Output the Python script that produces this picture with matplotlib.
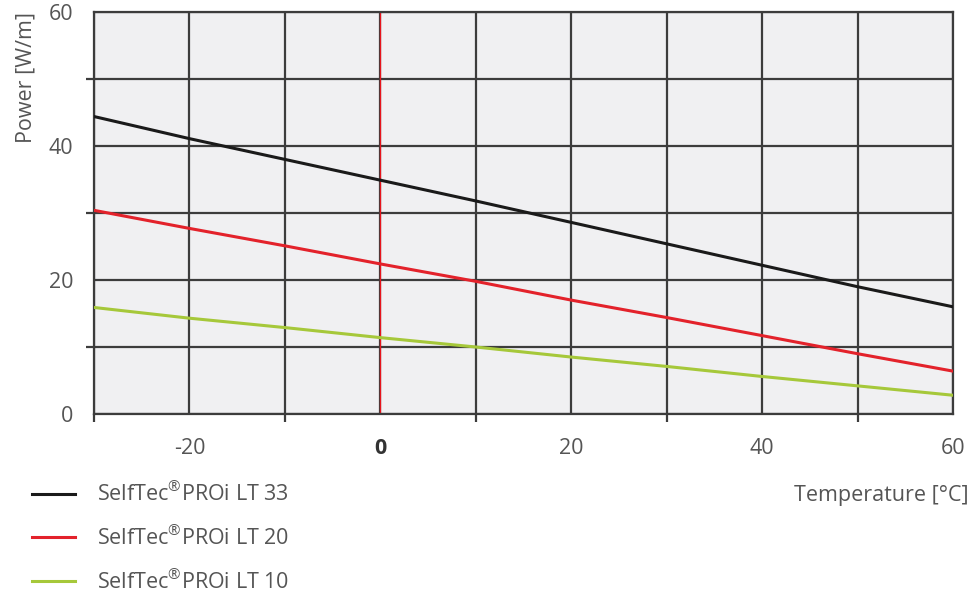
import matplotlib
matplotlib.use("Agg")
import matplotlib.pyplot as plt
from matplotlib.ticker import FuncFormatter

plt.rcParams['font.family'] = ['Open Sans', 'DejaVu Sans']
plt.rcParams['mathtext.fontset'] = 'custom'
plt.rcParams['mathtext.rm'] = 'Open Sans'

# temperature points (degC)
temperature = [-30, -20, -10, 0, 10, 20, 30, 40, 50, 60]
# power per metre (W/m) for each cable
lt33 = [44.4, 41.1, 38.0, 34.9, 31.8, 28.6, 25.4, 22.2, 19.0, 16.0]
lt20 = [30.4, 27.7, 25.1, 22.4, 19.8, 17.0, 14.4, 11.7, 9.0, 6.4]
lt10 = [15.9, 14.3, 12.9, 11.4, 10.0, 8.5, 7.1, 5.6, 4.2, 2.8]

labels = ["SelfTec$^{®}$PROi LT 33",
          "SelfTec$^{®}$PROi LT 20",
          "SelfTec$^{®}$PROi LT 10"]
colors = ["#1a1a1a", "#e3222b", "#a6c83a"]

text_col = "#555555"
grid_col = "#3c3c3c"

fig = plt.figure(figsize=(9.73, 6), dpi=100)
ax = fig.add_axes([0.0966, 0.31, 0.8828, 0.67])
ax.set_facecolor("#f0f0f2")

ax.set_xlim(-30, 60)
ax.set_ylim(0, 60)

ax.set_xticks([-20, 0, 20, 40, 60])
ax.set_xticks([-30, -10, 10, 30, 50], minor=True)
ax.set_yticks([0, 20, 40, 60])
ax.set_yticks([10, 30, 50], minor=True)
ax.xaxis.set_major_formatter(FuncFormatter(lambda v, p: "%d" % v))
ax.tick_params(which='major', length=0, labelsize=15.5, colors=text_col)
ax.tick_params(axis='x', which='major', pad=17)
ax.tick_params(axis='y', which='major', pad=15)
ax.tick_params(which='minor', length=6, width=1.6, color=grid_col, direction='out')

ax.grid(True, which='both', color=grid_col, linewidth=1.6)
ax.set_axisbelow(True)
for s in ax.spines.values():
    s.set_color(grid_col)
    s.set_linewidth(1.6)

ax.axvline(0, color="#e8141c", linewidth=0.9, zorder=2)

series = [lt33, lt20, lt10]
for vals, lab, c in zip(series, labels, colors):
    ax.plot(temperature, vals, color=c, linewidth=2.2, label=lab, zorder=3)

# bold 0 tick
fig.canvas.draw()
for lab in ax.get_xticklabels():
    if lab.get_position()[0] == 0:
        lab.set_fontweight('bold')
        lab.set_color("#333333")

ax.set_ylabel("Power [W/m]", fontsize=15.5, color=text_col)
ax.yaxis.set_label_coords(-0.079, 1.0)
ax.yaxis.label.set_horizontalalignment('right')
ax.yaxis.label.set_verticalalignment('center')

fig.text(0.995, 0.175, "Temperature [°C]", fontsize=15.5, color=text_col,
         ha='right', va='center')

leg = fig.legend(loc='upper left', bbox_to_anchor=(0.033, 0.197), frameon=False,
                 fontsize=15.5, labelcolor=text_col, handlelength=2.0,
                 handletextpad=1.0, labelspacing=0.91, borderpad=0,
                 borderaxespad=0)

fig.savefig("out.png", dpi=100)
